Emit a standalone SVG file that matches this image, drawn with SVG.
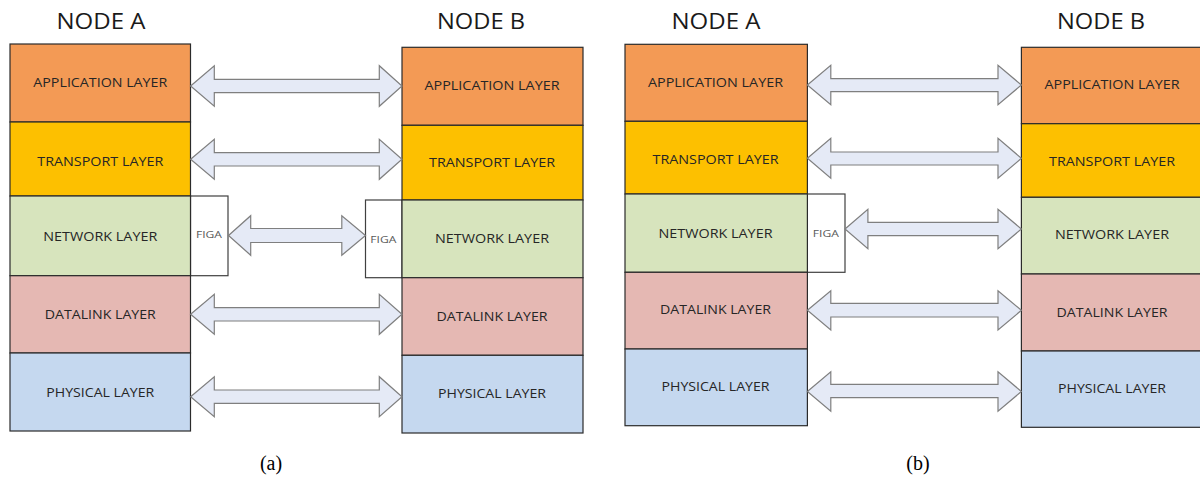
<svg xmlns="http://www.w3.org/2000/svg" width="1200" height="477" viewBox="0 0 1200 477">
<style>
  .bg{fill:#ffffff}
  .ly{stroke:#2b2b2b;stroke-width:1.2}
  .app{fill:#F39A55}
  .tra{fill:#FDC000}
  .net{fill:#D7E4BD}
  .dat{fill:#E5B8B3}
  .phy{fill:#C5D8EF}
  .figa{fill:#ffffff;stroke:#404040;stroke-width:1.2}
  .lt{font-family:"Open Sans","Liberation Sans",sans-serif;font-size:12.5px;fill:#262626;text-anchor:middle}
  .ft{font-family:"Open Sans","Liberation Sans",sans-serif;font-size:9.5px;fill:#595959;text-anchor:middle}
  .hd{font-family:"Open Sans","Liberation Sans",sans-serif;font-size:21px;fill:#1a1a1a;text-anchor:middle}
  .cap{font-family:"Liberation Serif","Times New Roman",serif;font-size:20px;fill:#000000;text-anchor:middle}
  .arr{fill:#E5EAF6;stroke:#7F7F7F;stroke-width:1.2;stroke-linejoin:miter}
</style>
<rect class="bg" x="0" y="0" width="1200" height="477"/>

<!-- Panel (a) -->
<g id="a-nodeA-title"><text class="hd" x="101" y="28.5" textLength="89" lengthAdjust="spacingAndGlyphs">NODE A</text></g>
<g id="a-nodeB-title"><text class="hd" x="481" y="28.5" textLength="88" lengthAdjust="spacingAndGlyphs">NODE B</text></g>

<g id="a-A-figa"><rect class="figa" x="190.5" y="196" width="37.5" height="79.7"/><text class="ft" x="209" y="238.3" textLength="26" lengthAdjust="spacingAndGlyphs">FIGA</text></g>
<g id="a-B-figa"><rect class="figa" x="365.5" y="200" width="36.5" height="77.7"/><text class="ft" x="383.3" y="242.7" textLength="26" lengthAdjust="spacingAndGlyphs">FIGA</text></g>

<g id="a-A-app"><rect class="ly app" x="10" y="44" width="180.5" height="78"/><text class="lt" x="100.3" y="87.3" textLength="134" lengthAdjust="spacingAndGlyphs">APPLICATION LAYER</text></g>
<g id="a-A-tra"><rect class="ly tra" x="10" y="122" width="180.5" height="74"/><text class="lt" x="100.3" y="165.7" textLength="126" lengthAdjust="spacingAndGlyphs">TRANSPORT LAYER</text></g>
<g id="a-A-net"><rect class="ly net" x="10" y="196" width="180.5" height="79.7"/><text class="lt" x="100.3" y="241" textLength="114" lengthAdjust="spacingAndGlyphs">NETWORK LAYER</text></g>
<g id="a-A-dat"><rect class="ly dat" x="10" y="275.7" width="180.5" height="77.3"/><text class="lt" x="100.3" y="319.3" textLength="111" lengthAdjust="spacingAndGlyphs">DATALINK LAYER</text></g>
<g id="a-A-phy"><rect class="ly phy" x="10" y="353" width="180.5" height="78"/><text class="lt" x="100.3" y="396.7" textLength="108" lengthAdjust="spacingAndGlyphs">PHYSICAL LAYER</text></g>

<g id="a-B-app"><rect class="ly app" x="402" y="47.3" width="181" height="78"/><text class="lt" x="492" y="90" textLength="135" lengthAdjust="spacingAndGlyphs">APPLICATION LAYER</text></g>
<g id="a-B-tra"><rect class="ly tra" x="402" y="125.3" width="181" height="74.7"/><text class="lt" x="492" y="167.3" textLength="126" lengthAdjust="spacingAndGlyphs">TRANSPORT LAYER</text></g>
<g id="a-B-net"><rect class="ly net" x="402" y="200" width="181" height="77.7"/><text class="lt" x="492" y="242.7" textLength="114" lengthAdjust="spacingAndGlyphs">NETWORK LAYER</text></g>
<g id="a-B-dat"><rect class="ly dat" x="402" y="277.7" width="181" height="77.6"/><text class="lt" x="492" y="321" textLength="111" lengthAdjust="spacingAndGlyphs">DATALINK LAYER</text></g>
<g id="a-B-phy"><rect class="ly phy" x="402" y="355.3" width="181" height="77.7"/><text class="lt" x="492" y="398.3" textLength="108" lengthAdjust="spacingAndGlyphs">PHYSICAL LAYER</text></g>

<g id="a-caption"><text class="cap" x="271" y="470">(a)</text></g>

<!-- Panel (b) -->
<g id="b-nodeA-title"><text class="hd" x="716" y="29" textLength="89" lengthAdjust="spacingAndGlyphs">NODE A</text></g>
<g id="b-nodeB-title"><text class="hd" x="1101" y="29" textLength="88" lengthAdjust="spacingAndGlyphs">NODE B</text></g>

<g id="b-A-figa"><rect class="figa" x="807.4" y="194" width="37.6" height="78.3"/><text class="ft" x="825.8" y="236.5" textLength="26" lengthAdjust="spacingAndGlyphs">FIGA</text></g>

<g id="b-A-app"><rect class="ly app" x="625" y="44.3" width="182.4" height="77"/><text class="lt" x="715.5" y="86.7" textLength="135" lengthAdjust="spacingAndGlyphs">APPLICATION LAYER</text></g>
<g id="b-A-tra"><rect class="ly tra" x="625" y="121.3" width="182.4" height="72.7"/><text class="lt" x="715.5" y="164" textLength="126" lengthAdjust="spacingAndGlyphs">TRANSPORT LAYER</text></g>
<g id="b-A-net"><rect class="ly net" x="625" y="194" width="182.4" height="78.3"/><text class="lt" x="715.5" y="238" textLength="114" lengthAdjust="spacingAndGlyphs">NETWORK LAYER</text></g>
<g id="b-A-dat"><rect class="ly dat" x="625" y="272.3" width="182.4" height="76.7"/><text class="lt" x="715.5" y="314.3" textLength="111" lengthAdjust="spacingAndGlyphs">DATALINK LAYER</text></g>
<g id="b-A-phy"><rect class="ly phy" x="625" y="349" width="182.4" height="76.7"/><text class="lt" x="715.5" y="390.7" textLength="108" lengthAdjust="spacingAndGlyphs">PHYSICAL LAYER</text></g>

<g id="b-B-app"><rect class="ly app" x="1021.4" y="47.3" width="183" height="76.4"/><text class="lt" x="1112" y="89.3" textLength="135" lengthAdjust="spacingAndGlyphs">APPLICATION LAYER</text></g>
<g id="b-B-tra"><rect class="ly tra" x="1021.4" y="123.7" width="183" height="73.6"/><text class="lt" x="1112" y="166" textLength="126" lengthAdjust="spacingAndGlyphs">TRANSPORT LAYER</text></g>
<g id="b-B-net"><rect class="ly net" x="1021.4" y="197.3" width="183" height="76.7"/><text class="lt" x="1112" y="239.3" textLength="114" lengthAdjust="spacingAndGlyphs">NETWORK LAYER</text></g>
<g id="b-B-dat"><rect class="ly dat" x="1021.4" y="274" width="183" height="77"/><text class="lt" x="1112" y="316.7" textLength="111" lengthAdjust="spacingAndGlyphs">DATALINK LAYER</text></g>
<g id="b-B-phy"><rect class="ly phy" x="1021.4" y="351" width="183" height="76.3"/><text class="lt" x="1112" y="393.3" textLength="108" lengthAdjust="spacingAndGlyphs">PHYSICAL LAYER</text></g>

<g id="b-caption"><text class="cap" x="918" y="470">(b)</text></g>

<!-- Connectors -->
<g id="connectors">
  <path class="arr" d="M190.6,86 L214.3,65.7 L214.3,79.3 L379.3,79.3 L379.3,65.7 L402,86 L379.3,106.3 L379.3,92.7 L214.3,92.7 L214.3,106.3 Z"/>
  <path class="arr" d="M190.6,159.3 L214.3,139.3 L214.3,152.7 L379.3,152.7 L379.3,139.3 L402,159.3 L379.3,179.3 L379.3,166 L214.3,166 L214.3,179.3 Z"/>
  <path class="arr" d="M228.5,235.5 L250.7,215.7 L250.7,228.5 L341.8,228.5 L341.8,215.7 L365.5,235.5 L341.8,255.3 L341.8,242.5 L250.7,242.5 L250.7,255.3 Z"/>
  <path class="arr" d="M190.6,314.3 L214.3,294.3 L214.3,307.7 L379.3,307.7 L379.3,294.3 L402,314.3 L379.3,334.3 L379.3,321 L214.3,321 L214.3,334.3 Z"/>
  <path class="arr" d="M190.6,396.7 L214.3,376.7 L214.3,390 L379.3,390 L379.3,376.7 L402,396.7 L379.3,416.7 L379.3,403.3 L214.3,403.3 L214.3,416.7 Z"/>

  <path class="arr" d="M807.4,85 L830.8,65.3 L830.8,78.7 L998,78.7 L998,65.3 L1021.4,85 L998,104.7 L998,91.7 L830.8,91.7 L830.8,104.7 Z"/>
  <path class="arr" d="M807.4,158.3 L830.8,138.3 L830.8,152 L998,152 L998,138.3 L1021.4,158.3 L998,178.3 L998,165 L830.8,165 L830.8,178.3 Z"/>
  <path class="arr" d="M845,229 L867.9,209.3 L867.9,222.3 L998,222.3 L998,209.3 L1021.4,229 L998,248.7 L998,235.7 L867.9,235.7 L867.9,248.7 Z"/>
  <path class="arr" d="M807.4,310.3 L830.8,290.7 L830.8,303.3 L998,303.3 L998,290.7 L1021.4,310.3 L998,330 L998,317 L830.8,317 L830.8,330 Z"/>
  <path class="arr" d="M807.4,391.5 L830.8,371.7 L830.8,384.3 L998,384.3 L998,371.7 L1021.4,391.5 L998,411.3 L998,397.7 L830.8,397.7 L830.8,411.3 Z"/>
</g>
</svg>
